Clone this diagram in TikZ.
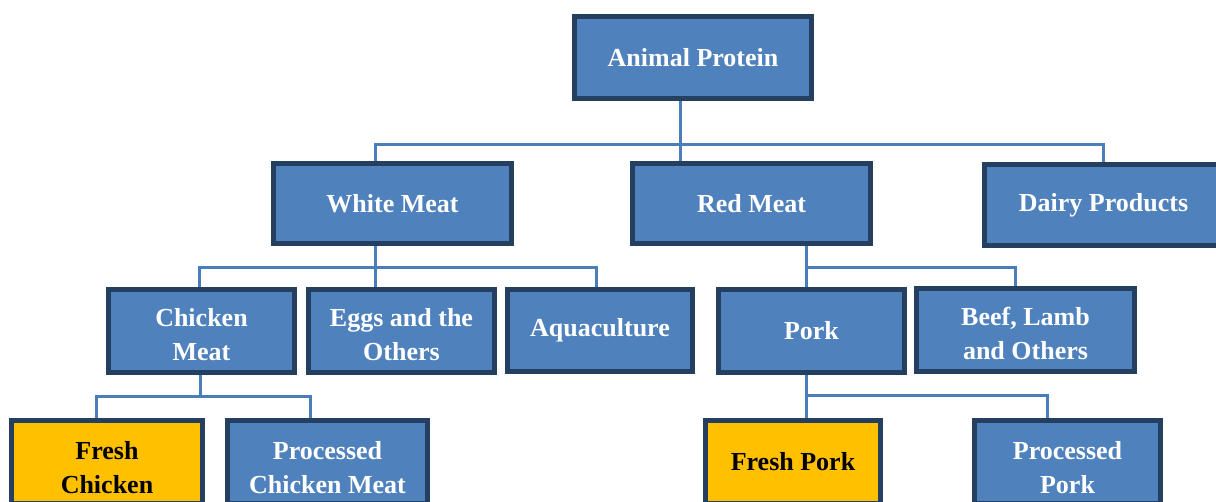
\documentclass[tikz,border=0pt]{standalone}
\usepackage{fontspec}
\setmainfont{Liberation Serif}
\definecolor{boxfill}{HTML}{4F81BD}
\definecolor{boxedge}{HTML}{243F60}
\definecolor{hifill}{HTML}{FFC000}
\definecolor{linecol}{HTML}{4A7EBB}
\pgfdeclarelayer{background}
\pgfsetlayers{background,main}
\newcommand{\topA}{\rule{0pt}{26pt}}
\newcommand{\topB}{\rule{0pt}{30pt}}
\tikzset{
  box/.style={draw=boxedge, line width=5pt, fill=boxfill, text=white, inner sep=0pt,
    align=center, font=\fontsize{26}{34}\selectfont\bfseries},
  hibox/.style={box, fill=hifill, text=black},
  conn/.style={draw=linecol, line width=3pt}
}
\begin{document}
\begin{tikzpicture}[x=1pt,y=-1pt]
\useasboundingbox (0,0) rectangle (1216,502);
\clip (0,0) rectangle (1216,502);
% level 0
\node[box, minimum width=237, minimum height=82] (ap) at (693,57.5) {Animal Protein};
% level 1
\node[box, minimum width=238, minimum height=80] (wm) at (392.5,203.5) {White Meat};
\node[box, minimum width=238, minimum height=80] (rm) at (751.5,203.5) {Red Meat};
\node[box, minimum width=238, minimum height=81] (dp) at (1103.5,205) {Dairy Products};
% level 2
\node[box, minimum width=186, minimum height=83] (cm) at (201.5,331) {\topA Chicken\\Meat};
\node[box, minimum width=186, minimum height=83] (eo) at (401.5,331) {\topA Eggs and the\\Others};
\node[box, minimum width=185, minimum height=82] (aq) at (600,330.5) {Aquaculture};
\node[box, minimum width=186, minimum height=83] (pk) at (811.5,331) {Pork};
\node[box, minimum width=218, minimum height=83] (bl) at (1025.5,330) {\topA Beef, Lamb\\and Others};
% level 3
\node[hibox, minimum width=191, minimum height=82] (fc) at (107,462) {\topB Fresh\\Chicken};
\node[box, minimum width=200, minimum height=82] (pc) at (327.5,462) {\topB Processed\\Chicken Meat};
\node[hibox, minimum width=175, minimum height=82] (fp) at (793,462) {Fresh Pork};
\node[box, minimum width=186, minimum height=82] (pp) at (1067.5,462) {\topB Processed\\Pork};
% junction coordinates
\coordinate (v1) at (680,145);
\coordinate (h1a) at (375,145);
\coordinate (h1b) at (1103,145);
\coordinate (v2) at (375,268);
\coordinate (h2a) at (199,268);
\coordinate (h2b) at (596,268);
\coordinate (v3) at (806,268);
\coordinate (h3b) at (1015,268);
\coordinate (v4) at (200,397);
\coordinate (h4a) at (96,397);
\coordinate (h4b) at (310,397);
\coordinate (h5b) at (1047,396);
\begin{pgfonlayer}{background}
\draw[conn] (ap.south -| v1) -- (rm.north -| v1);
\draw[conn] (wm.north -| h1a) -- (h1a) -- (h1b) -- (dp.north -| h1b);
\draw[conn] (wm.south -| v2) -- (eo.north -| v2);
\draw[conn] (cm.north -| h2a) -- (h2a) -- (h2b) -- (aq.north -| h2b);
\draw[conn] (rm.south -| v3) -- (pk.north -| v3);
\draw[conn] (v3) -- (h3b) -- (bl.north -| h3b);
\draw[conn] (cm.south -| v4) -- (v4);
\draw[conn] (fc.north -| h4a) -- (h4a) -- (h4b) -- (pc.north -| h4b);
\draw[conn] (pk.south -| v3) -- (fp.north -| v3);
\draw[conn] (v3 |- h5b) -- (h5b) -- (pp.north -| h5b);
\end{pgfonlayer}
\end{tikzpicture}
\end{document}
